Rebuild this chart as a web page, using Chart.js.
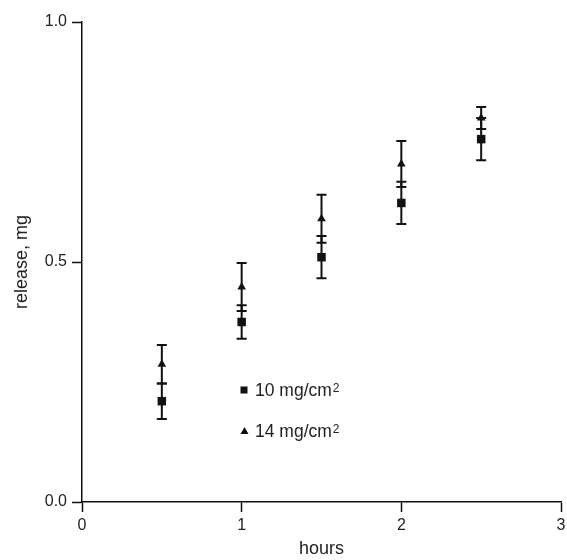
<!DOCTYPE html>
<html>
<head>
<meta charset="utf-8">
<script src="https://cdn.jsdelivr.net/npm/chart.js@4/dist/chart.umd.min.js"></script>
<style>
  html, body { margin: 0; padding: 0; background: #fff; }
  #wrap { width: 567px; height: 560px; }
</style>
</head>
<body>
<div id="wrap"><canvas id="releaseChart" width="567" height="560"></canvas></div>
<script>
// data
const hours = [0.5, 1, 1.5, 2, 2.5];
const release10 = [0.21, 0.375, 0.51, 0.623, 0.756];
const err10 = [0.037, 0.035, 0.044, 0.044, 0.044];
const release14 = [0.287, 0.448, 0.59, 0.704, 0.80];
const err14 = [0.04, 0.05, 0.05, 0.048, 0.023];
const legendLabels = ['10 mg/cm', '14 mg/cm'];
const legendSup = '2';

const FONT = '"Liberation Sans", Arial, Helvetica, sans-serif';
const INK = '#111';

// vertical error bars with caps, drawn under the markers
const errorBars = {
  id: 'errorBars',
  beforeDatasetsDraw(chart) {
    const {ctx, scales: {x, y}} = chart;
    ctx.save();
    ctx.strokeStyle = INK;
    ctx.lineWidth = 2;
    chart.data.datasets.forEach(ds => {
      ds.data.forEach((p, i) => {
        const px = x.getPixelForValue(p.x);
        const lo = y.getPixelForValue(p.y - ds.errors[i]);
        const hi = y.getPixelForValue(p.y + ds.errors[i]);
        ctx.beginPath();
        ctx.moveTo(px, lo); ctx.lineTo(px, hi);
        ctx.moveTo(px - 5, lo); ctx.lineTo(px + 5, lo);
        ctx.moveTo(px - 5, hi); ctx.lineTo(px + 5, hi);
        ctx.stroke();
      });
    });
    ctx.restore();
  }
};

// legend sits inside the plot, with a raised "2"
const innerLegend = {
  id: 'innerLegend',
  afterDraw(chart) {
    const ctx = chart.ctx;
    ctx.save();
    ctx.fillStyle = INK;
    // square
    ctx.fillRect(240.5, 386.5, 7, 7);
    // triangle
    ctx.beginPath();
    ctx.moveTo(244.5, 427);
    ctx.lineTo(248.5, 434);
    ctx.lineTo(240.5, 434);
    ctx.closePath();
    ctx.fill();
    ctx.fillStyle = '#222';
    ctx.textBaseline = 'alphabetic';
    const rows = [396, 437];
    rows.forEach((yy, i) => {
      ctx.font = '17.5px ' + FONT;
      ctx.fillText(legendLabels[i], 255, yy);
      const w = ctx.measureText(legendLabels[i]).width;
      ctx.font = '12px ' + FONT;
      ctx.fillText(legendSup, 255 + w + 1, yy - 4);
    });
    ctx.restore();
  }
};

const axisCommon = {
  border: { display: true, color: INK, width: 1.5 },
  grid: { display: true, drawOnChartArea: false, drawTicks: true, tickLength: 10, tickWidth: 1.5, tickColor: INK }
};

new Chart(document.getElementById('releaseChart').getContext('2d'), {
  type: 'scatter',
  data: {
    datasets: [
      {
        label: legendLabels[0],
        data: hours.map((h, i) => ({ x: h, y: release10[i] })),
        errors: err10,
        pointStyle: 'rect',
        pointRadius: 6,
        backgroundColor: INK,
        borderColor: INK,
        borderWidth: 0
      },
      {
        label: legendLabels[1],
        data: hours.map((h, i) => ({ x: h, y: release14[i] })),
        errors: err14,
        pointStyle: 'triangle',
        pointRadius: 5,
        backgroundColor: INK,
        borderColor: INK,
        borderWidth: 0
      }
    ]
  },
  options: {
    responsive: false,
    animation: false,
    layout: { padding: { top: 22, right: 0, left: 0, bottom: 0 } },
    plugins: {
      legend: { display: false },
      tooltip: { enabled: false }
    },
    scales: {
      x: {
        ...axisCommon,
        type: 'linear',
        min: 0,
        max: 3,
        ticks: { stepSize: 1, padding: 4, color: '#222', font: { family: FONT, size: 16 }, maxRotation: 0, callback: v => String(v) },
        title: { display: true, text: 'hours', color: '#222', font: { family: FONT, size: 18 }, padding: { top: 0, bottom: 0 } },
        afterFit(scale) { scale.height = 58; scale.paddingRight = 5; }
      },
      y: {
        ...axisCommon,
        min: 0,
        max: 1,
        ticks: { stepSize: 0.5, padding: 5, color: '#222', font: { family: FONT, size: 16 }, callback: v => v.toFixed(1) },
        title: { display: true, text: 'release, mg', color: '#222', font: { family: FONT, size: 18 }, padding: { top: 11, bottom: 0 } },
        afterFit(scale) { scale.width = 82; }
      }
    }
  },
  plugins: [errorBars, innerLegend]
});
</script>
</body>
</html>
